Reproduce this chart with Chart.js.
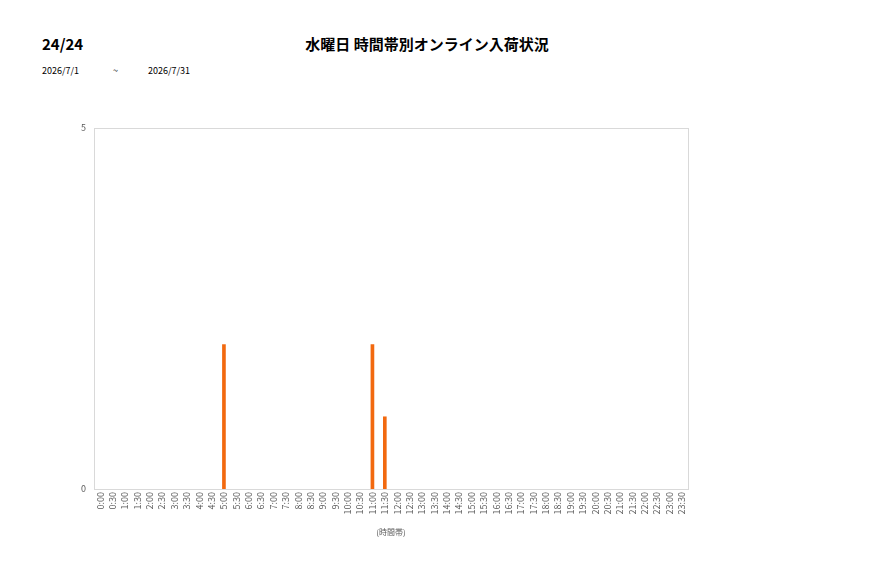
<!DOCTYPE html>
<html><head><meta charset="utf-8">
<script src="https://cdn.jsdelivr.net/npm/chart.js@4/dist/chart.umd.min.js"></script>
<style>
html,body{margin:0;padding:0;background:#fff;width:877px;height:578px;overflow:hidden;font-family:"Noto Sans CJK JP","Noto Sans",sans-serif;}
#wrap{position:absolute;left:0;top:0;width:877px;height:578px;}
.t{position:absolute;white-space:nowrap;color:#000;}
</style></head>
<body>
<div class="t" style="left:42px;top:33px;font-size:15px;font-weight:bold;">24/24</div>
<div class="t" style="left:0;width:854px;text-align:center;top:33px;font-size:15px;font-weight:bold;">水曜日 時間帯別オンライン入荷状況</div>
<div class="t" style="left:42px;top:64px;font-size:9px;">2026/7/1</div>
<div class="t" style="left:113px;top:64px;font-size:9px;">~</div>
<div class="t" style="left:148px;top:64px;font-size:9px;">2026/7/31</div>
<div id="wrap"><canvas id="c" width="877" height="578"></canvas></div>
<script>
const timeSlots = [];
for (let h = 0; h < 24; h++) { timeSlots.push(h + ':00'); timeSlots.push(h + ':30'); }
const arrivals = [0,0,0,0,0,0,0,0,0,0,2,0,0,0,0,0,0,0,0,0,0,0,2,1,0,0,0,0,0,0,0,0,0,0,0,0,0,0,0,0,0,0,0,0,0,0,0,0];
const yTicks = [0, 5];
const xTitle = '(時間帯)';

const frame = {
  id: 'frame',
  beforeDatasetsDraw(chart) {
    const a = chart.chartArea, ctx = chart.ctx;
    ctx.save();
    ctx.strokeStyle = '#d9d9d9';
    ctx.lineWidth = 1;
    ctx.strokeRect(Math.round(a.left) + 0.5, Math.round(a.top) + 0.5, Math.round(a.right - a.left), Math.round(a.bottom - a.top));
    ctx.restore();
  }
};

new Chart(document.getElementById('c'), {
  type: 'bar',
  data: { labels: timeSlots, datasets: [{ data: arrivals.map(v => v === 0 ? null : v), backgroundColor: '#f2690f', barThickness: 3 }] },
  options: {
    responsive: false, animation: false,
    layout: { padding: { left: 66, right: 189, top: 128, bottom: 39 } },
    plugins: { legend: { display: false }, tooltip: { enabled: false } },
    scales: {
      x: {
        grid: { display: false, drawTicks: false },
        border: { display: false },
        ticks: { autoSkip: false, maxRotation: 90, minRotation: 90, color: '#595959', font: { size: 9, family: '"Noto Sans CJK JP"' }, padding: 3 },
        title: { display: true, text: xTitle, color: '#595959', font: { size: 8, family: '"Noto Sans CJK JP"' }, padding: { top: 2, bottom: 2 } },
        afterFit(s) { s.height = 50; }
      },
      y: {
        min: 0, max: 5,
        grid: { display: false, drawTicks: false },
        border: { display: false },
        afterBuildTicks(s) { s.ticks = yTicks.map(v => ({ value: v })); },
        ticks: { color: '#595959', font: { size: 9, family: '"Noto Sans CJK JP"' }, padding: 8 },
        afterFit(s) { s.width = 28; }
      }
    }
  },
  plugins: [frame]
});
</script>
</body></html>
